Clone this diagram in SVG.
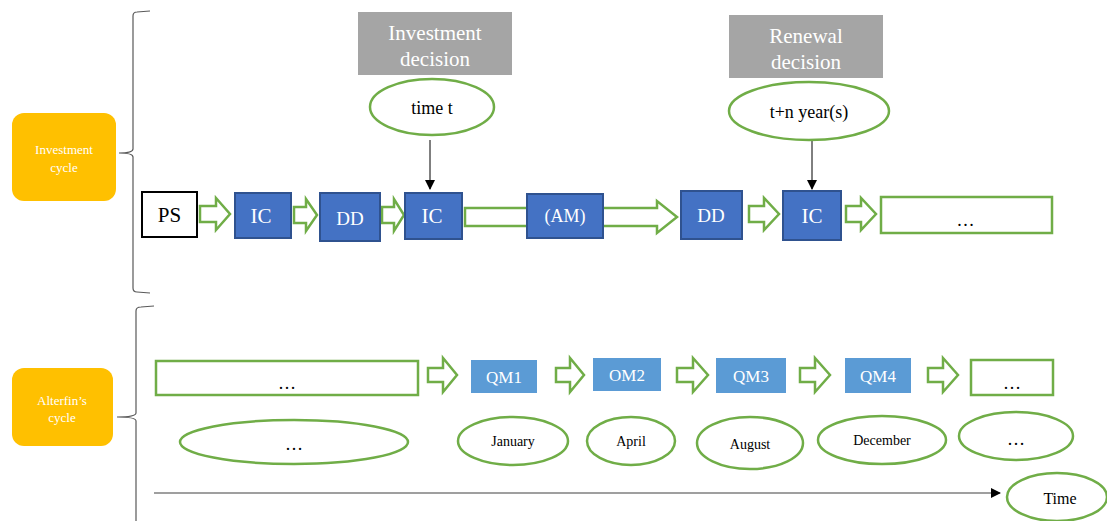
<svg xmlns="http://www.w3.org/2000/svg" width="1107" height="521" viewBox="0 0 1107 521" font-family="'Liberation Serif', 'Times New Roman', serif">
<defs>
<style>
text{font-family:"Liberation Serif","Times New Roman",serif;text-anchor:middle;dominant-baseline:central}
.cyc{fill:#FFC000}
.cyct{fill:#fff;font-size:13px}
.blue{fill:#4472C4;stroke:#2F528F;stroke-width:2}
.lblue{fill:#5B9BD5}
.wt{fill:#fff;font-size:21px}
.qt{fill:#fff;font-size:17px}
.grey{fill:#A5A5A5}
.gt{fill:#fff;font-size:21px}
.gr{fill:#fff;stroke:#70AD47;stroke-width:2.5}
.bar{fill:#fff;stroke:#70AD47;stroke-width:2.5}
.bt{fill:#000;font-size:18px}
.mt{fill:#000;font-size:14px}
.brace{fill:none;stroke:#595959;stroke-width:1.2}
.ln{fill:none;stroke:#000;stroke-width:1}
</style>
<marker id="ah" markerWidth="10" markerHeight="10" refX="9" refY="5" orient="auto" markerUnits="userSpaceOnUse" viewBox="0 0 10 10">
<path d="M0,0 L10,5 L0,10 Z" fill="#000"/>
</marker>
</defs>

<g id="braces">
<path class="brace" d="M150,11 L137,12 Q133,12 133,16 L133,149 Q133,153 119,153 Q133,153 133,157 L133,288 Q133,292 137,292 L150,293"/>
<path class="brace" d="M154,306 L141,307 Q136,307 136,311 L136,413 Q136,417 117,417 Q136,417 136,421 L136,521"/>
</g>

<g id="investment-cycle"><rect class="cyc" x="12" y="113" width="104" height="88" rx="12"/><text class="cyct" x="64" y="149">Investment</text><text class="cyct" x="64" y="167">cycle</text></g>
<g id="alterfin-cycle"><rect class="cyc" x="12" y="368" width="101" height="78" rx="12"/><text class="cyct" x="62" y="400">Alterfin’s</text><text class="cyct" x="62" y="417">cycle</text></g>

<g id="connectors">
<path class="bar" d="M200,206 L216,206 L216,198 L230,214 L216,230 L216,222 L200,222 Z"/>
<path class="bar" d="M294,207 L306,207 L306,199 L317,215 L306,231 L306,223 L294,223 Z"/>
<path class="bar" d="M382,207 L394,207 L394,199 L404,215 L394,231 L394,223 L382,223 Z"/>
<path class="bar" d="M465,208 L657,208 L657,201 L677,217 L657,233 L657,226 L465,226 Z"/>
<path class="bar" d="M749,206 L764,206 L764,198 L779,214 L764,230 L764,222 L749,222 Z"/>
<path class="bar" d="M846,206 L861,206 L861,198 L876,214 L861,230 L861,222 L846,222 Z"/>
<path class="bar" d="M428,368 L443,368 L443,358 L457,375 L443,392 L443,382 L428,382 Z"/>
<path class="bar" d="M556,368 L570,368 L570,358 L584,375 L570,392 L570,382 L556,382 Z"/>
<path class="bar" d="M677,368 L693,368 L693,358 L708,375 L693,392 L693,382 L677,382 Z"/>
<path class="bar" d="M800,368 L815,368 L815,358 L830,375 L815,392 L815,382 L800,382 Z"/>
<path class="bar" d="M928,368 L943,368 L943,358 L958,375 L943,392 L943,382 L928,382 Z"/>
<line class="ln" x1="430" y1="140" x2="430" y2="189" marker-end="url(#ah)"/>
<line class="ln" x1="812" y1="141" x2="812" y2="189" marker-end="url(#ah)"/>
<line x1="154" y1="493" x2="1000" y2="493" stroke="#404040" stroke-width="1.2" marker-end="url(#ah)"/>
</g>

<g id="ps"><rect x="142" y="192" width="55" height="45" fill="#fff" stroke="#000" stroke-width="2"/><text x="169.5" y="214.5" style="font-size:21px" fill="#000">PS</text></g>
<g id="ic1"><rect class="blue" x="235" y="193" width="56" height="45"/><text class="wt" x="261" y="216">IC</text></g>
<g id="dd1"><rect class="blue" x="320" y="193" width="60" height="48"/><text class="wt" x="350" y="218" style="font-size:19px">DD</text></g>
<g id="ic2"><rect class="blue" x="405" y="193" width="57" height="46"/><text class="wt" x="432" y="216">IC</text></g>
<g id="am"><rect class="blue" x="527" y="194" width="76" height="44"/><text class="wt" x="565" y="216" style="font-size:18px">(AM)</text></g>
<g id="dd2"><rect class="blue" x="681" y="191" width="61" height="48"/><text class="wt" x="711" y="215" style="font-size:19px">DD</text></g>
<g id="ic3"><rect class="blue" x="783" y="191" width="58" height="49"/><text class="wt" x="812" y="216">IC</text></g>
<g id="more-top"><rect class="gr" x="881" y="197" width="171" height="36"/><text class="bt" x="966" y="220" letter-spacing="1">…</text></g>

<g id="investment-decision"><rect class="grey" x="358" y="12" width="154" height="63"/><text class="gt" x="435" y="33">Investment</text><text class="gt" x="435" y="59">decision</text></g>
<g id="time-t"><ellipse class="gr" cx="432" cy="107" rx="62" ry="28"/><text class="bt" x="432" y="108">time t</text></g>
<g id="renewal-decision"><rect class="grey" x="729" y="15" width="154" height="63"/><text class="gt" x="806" y="36">Renewal</text><text class="gt" x="806" y="62">decision</text></g>
<g id="t-n-years"><ellipse class="gr" cx="809" cy="111" rx="80" ry="29"/><text class="bt" x="809" y="112">t+n year(s)</text></g>

<g id="more-bottom"><rect class="gr" x="156" y="361" width="262" height="34"/><text class="bt" x="287" y="383">…</text></g>
<g id="more-ellipse"><ellipse class="gr" cx="294" cy="442" rx="114" ry="22"/><text class="bt" x="294" y="444">…</text></g>
<g id="qm1"><rect class="lblue" x="471" y="360" width="66" height="33"/><text class="qt" x="504" y="377">QM1</text></g>
<g id="qm2"><rect class="lblue" x="593" y="358" width="68" height="33"/><text class="qt" x="627" y="375">OM2</text></g>
<g id="qm3"><rect class="lblue" x="716" y="358" width="70" height="35"/><text class="qt" x="751" y="376">QM3</text></g>
<g id="qm4"><rect class="lblue" x="845" y="358" width="66" height="35"/><text class="qt" x="878" y="376">QM4</text></g>
<g id="more-qm"><rect class="gr" x="971" y="360" width="82" height="35"/><text class="bt" x="1012" y="383">…</text></g>
<g id="january"><ellipse class="gr" cx="513" cy="441" rx="55" ry="24"/><text class="mt" x="513" y="441">January</text></g>
<g id="april"><ellipse class="gr" cx="631" cy="441" rx="44" ry="24"/><text class="mt" x="631" y="441">April</text></g>
<g id="august"><ellipse class="gr" cx="750" cy="443" rx="53" ry="26"/><text class="mt" x="750" y="444">August</text></g>
<g id="december"><ellipse class="gr" cx="882" cy="440" rx="64" ry="24"/><text class="mt" x="882" y="440">December</text></g>
<g id="more-month"><ellipse class="gr" cx="1016" cy="436" rx="57" ry="24"/><text class="bt" x="1016" y="439">…</text></g>
<g id="time"><ellipse class="gr" cx="1057" cy="497" rx="50" ry="24"/><text class="bt" x="1060" y="498" style="font-size:16px">Time</text></g>
</svg>
